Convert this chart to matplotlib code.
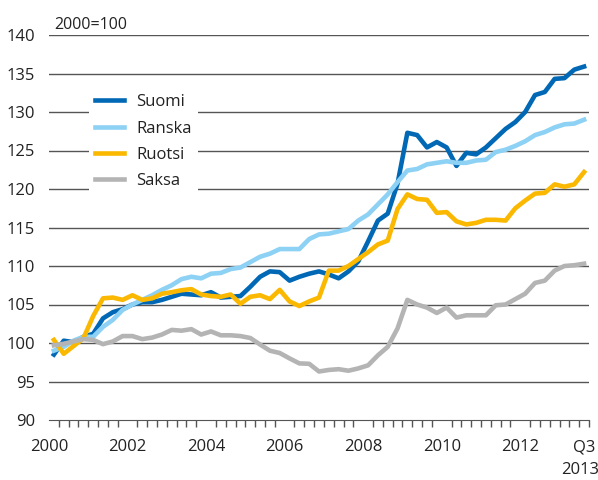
import matplotlib.pyplot as plt
import numpy as np

plt.rcParams['font.family'] = ['Open Sans', 'DejaVu Sans']

# Neljännesvuosittaiset indeksit 2000Q1 - 2013Q3, 2000=100
suomi = [98.5, 100.3, 100.1, 100.8, 101.2, 103.2, 104.0, 104.4, 105.0, 105.3,
         105.3, 105.6, 106.0, 106.4, 106.3, 106.2, 106.6, 105.9, 106.0, 106.1,
         107.3, 108.6, 109.3, 109.2, 108.1, 108.6, 109.0, 109.3, 108.9, 108.4,
         109.3, 110.6, 113.2, 115.9, 116.8, 120.7, 127.3, 127.0, 125.4, 126.1,
         125.4, 123.0, 124.7, 124.5, 125.4, 126.6, 127.8, 128.7, 130.0, 132.2,
         132.6, 134.3, 134.4, 135.5, 135.9]
ranska = [99.0, 99.5, 100.3, 100.8, 100.8, 102.1, 103.0, 104.3, 105.0, 105.6,
          106.2, 106.9, 107.5, 108.3, 108.6, 108.4, 109.0, 109.1, 109.6, 109.8,
          110.5, 111.2, 111.6, 112.2, 112.2, 112.2, 113.5, 114.1, 114.2, 114.5,
          114.8, 115.9, 116.7, 118.0, 119.3, 120.9, 122.4, 122.6, 123.2, 123.4,
          123.6, 123.4, 123.4, 123.7, 123.8, 124.8, 125.1, 125.6, 126.2, 127.0,
          127.4, 128.0, 128.4, 128.5, 129.0]
ruotsi = [100.4, 98.6, 99.6, 100.6, 103.5, 105.8, 105.9, 105.6, 106.2, 105.6,
          105.8, 106.4, 106.6, 106.85, 107.0, 106.3, 106.1, 106.0, 106.3, 105.1,
          106.0, 106.2, 105.7, 106.9, 105.4, 104.8, 105.4, 105.9, 109.4, 109.4,
          110.0, 110.9, 111.8, 112.8, 113.3, 117.4, 119.3, 118.7, 118.6, 116.9,
          117.0, 115.8, 115.4, 115.6, 116.0, 116.0, 115.9, 117.5, 118.5, 119.4,
          119.5, 120.6, 120.3, 120.6, 122.2]
saksa = [99.7, 99.9, 100.2, 100.5, 100.4, 99.85, 100.2, 100.9, 100.9, 100.5,
         100.7, 101.1, 101.7, 101.6, 101.8, 101.1, 101.5, 101.0, 101.0, 100.9,
         100.65, 99.8, 99.0, 98.7, 98.0, 97.35, 97.3, 96.3, 96.5, 96.6,
         96.4, 96.7, 97.1, 98.4, 99.5, 101.9, 105.6, 105.0, 104.6, 103.9,
         104.6, 103.3, 103.6, 103.6, 103.6, 104.9, 105.0, 105.7, 106.4, 107.8,
         108.1, 109.4, 110.0, 110.1, 110.3]

labels = ['Suomi', 'Ranska', 'Ruotsi', 'Saksa']
colors = ['#0068b4', '#8dd1f4', '#fbb800', '#b4b4b4']
x_labels = ['2000', '2002', '2004', '2006', '2008', '2010', '2012', 'Q3']

x = np.arange(len(suomi)) + 0.5

fig = plt.figure(figsize=(5.98, 4.8), dpi=100)
ax = fig.add_axes([49/598, 1 - 420/480, 540/598, 385/480])

for y in range(95, 141, 5):
    ax.axhline(y, color='#555555', lw=1, zorder=1)

for data, lab, col in zip([suomi, ranska, ruotsi, saksa], labels, colors):
    ax.plot(x, data, color=col, lw=3.3, label=lab, zorder=3, solid_joinstyle='round')

ax.set_xlim(0, 55)
ax.set_ylim(90, 140)
ax.set_yticks(range(90, 141, 5))
ax.tick_params(axis='y', length=0, pad=10, labelsize=12, labelcolor='#222222')

ax.set_xticks([0, 8, 16, 24, 32, 40, 48, 54.5])
ax.set_xticklabels(x_labels)
ax.set_xticks(np.arange(0, 56), minor=True)
ax.tick_params(axis='x', which='major', length=0, pad=14, labelsize=12, labelcolor='#222222')
ax.tick_params(axis='x', which='minor', length=5, width=1, color='#555555')

for s in ['top', 'right', 'left']:
    ax.spines[s].set_visible(False)
ax.spines['bottom'].set_color('#555555')

ax.annotate('2013', xy=(54.5, 0), xycoords=('data', 'axes fraction'),
            xytext=(-3, -36), textcoords='offset points', ha='center', va='center',
            fontsize=12, color='#222222', annotation_clip=False)
ax.text(0.01, 1.005, '2000=100', transform=ax.transAxes, ha='left', va='bottom',
        fontsize=11.5, color='#222222')

leg = ax.legend(loc='upper left', bbox_to_anchor=(0.058, 0.885), frameon=True,
                fancybox=False, framealpha=1, edgecolor='none', facecolor='white',
                fontsize=12, handlelength=1.75, labelspacing=0.62, borderpad=0.4,
                handletextpad=0.7)
for t in leg.get_texts():
    t.set_color('#222222')
leg.set_zorder(4)

plt.savefig('out.png', dpi=100)
plt.close()
